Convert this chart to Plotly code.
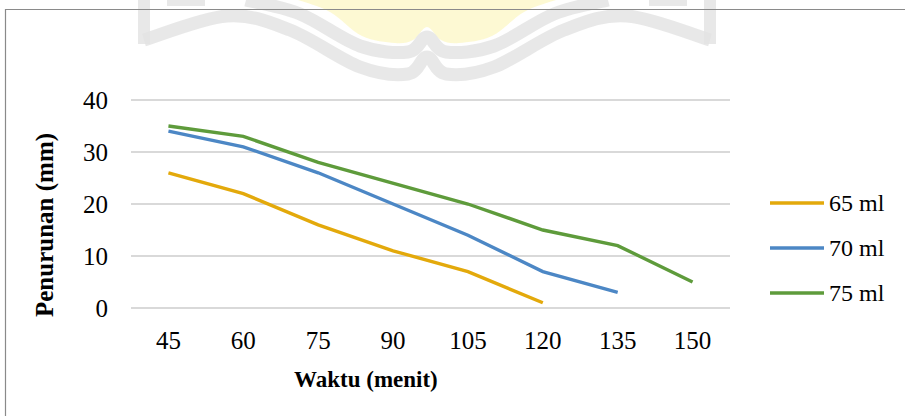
import plotly.graph_objects as go

# Settlement (mm) over time (minutes) for three dosage volumes
waktu = ["45", "60", "75", "90", "105", "120", "135", "150"]
seri = ["65 ml", "70 ml", "75 ml"]
nilai_65 = [26, 22, 16, 11, 7, 1]
nilai_70 = [34, 31, 26, 20, 14, 7, 3]
nilai_75 = [35, 33, 28, 24, 20, 15, 12, 5]
warna = ["#E3A90B", "#4C87C5", "#5E9B3B"]

W, H = 905, 416
FONT = "Liberation Serif"
Y_TOP = 40.2  # small headroom so the 40 gridline is drawn


def px(x):
    return x / W


def py(y):
    return 1 - y / H


def smooth(points, closed=False):
    """Catmull-Rom spline through pixel points, as an SVG path in paper units."""
    pts = [(px(a), py(b)) for a, b in points]
    d = f"M {pts[0][0]:.5f},{pts[0][1]:.5f}"
    n = len(pts)
    for i in range(n - 1):
        p0 = pts[i - 1] if i > 0 else pts[i]
        p1, p2 = pts[i], pts[i + 1]
        p3 = pts[i + 2] if i + 2 < n else pts[i + 1]
        c1 = (p1[0] + (p2[0] - p0[0]) / 6, p1[1] + (p2[1] - p0[1]) / 6)
        c2 = (p2[0] - (p3[0] - p1[0]) / 6, p2[1] - (p3[1] - p1[1]) / 6)
        d += (f" C {c1[0]:.5f},{c1[1]:.5f} {c2[0]:.5f},{c2[1]:.5f}"
              f" {p2[0]:.5f},{p2[1]:.5f}")
    return d + (" Z" if closed else "")


fig = go.Figure()
for nama, ys, c in zip(seri, [nilai_65, nilai_70, nilai_75], warna):
    fig.add_trace(go.Scatter(
        x=waktu[:len(ys)], y=ys, name=nama, mode="lines",
        line=dict(color=c, width=3.4), showlegend=False,
        hoverinfo="x+y+name",
    ))

shapes = []
annotations = []

# faint logo behind the top of the page
WM = "rgba(226,226,226,0.8)"
yellow = [(298, 0), (330, 12), (362, 36), (395, 43), (413, 40), (427, 27),
          (441, 40), (459, 43), (492, 36), (524, 12), (556, 0)]
shapes.append(dict(type="path", xref="paper", yref="paper", layer="below",
                   path=smooth(yellow, closed=True), fillcolor="rgba(253,247,200,0.8)",
                   line=dict(width=0)))
inner = [(246, 0), (300, 14), (360, 46), (408, 52), (427, 37), (446, 52),
         (494, 46), (554, 14), (608, 0)]
outer = [(144, 40), (227, 16), (290, 30), (360, 67), (408, 74), (427, 57),
         (446, 74), (494, 67), (564, 30), (627, 16), (710, 40)]
for pts in (inner, outer):
    shapes.append(dict(type="path", xref="paper", yref="paper", layer="below",
                       path=smooth(pts), line=dict(color=WM, width=13)))
for xv in (144, 710):
    shapes.append(dict(type="line", xref="paper", yref="paper", layer="below",
                       x0=px(xv), x1=px(xv), y0=py(0), y1=py(44),
                       line=dict(color=WM, width=12)))
for xa, xb in ((167, 205), (649, 687)):
    shapes.append(dict(type="rect", xref="paper", yref="paper", layer="below",
                       x0=px(xa), x1=px(xb), y0=py(0), y1=py(6),
                       fillcolor=WM, line=dict(width=0)))

# chart area border (left and top edges)
shapes.append(dict(type="line", xref="paper", yref="paper", x0=px(5), x1=px(905),
                   y0=py(9.5), y1=py(9.5), line=dict(color="#8a8a8a", width=1.2)))
shapes.append(dict(type="line", xref="paper", yref="paper", x0=px(5.5), x1=px(5.5),
                   y0=py(9), y1=py(416), line=dict(color="#8a8a8a", width=1.2)))

# legend
for i, (nama, c) in enumerate(zip(seri, warna)):
    yc = 203 + 45 * i
    shapes.append(dict(type="line", xref="paper", yref="paper",
                       x0=px(770), x1=px(824), y0=py(yc), y1=py(yc),
                       line=dict(color=c, width=3.4)))
    annotations.append(dict(text=nama, xref="paper", yref="paper", x=px(827), y=py(yc),
                            xanchor="left", yanchor="middle", showarrow=False,
                            font=dict(family=FONT, size=24, color="#000")))

# axis titles
annotations.append(dict(text="<b>Waktu (menit)</b>", xref="paper", yref="paper",
                        x=px(366), y=py(379), xanchor="center", yanchor="middle",
                        showarrow=False, font=dict(family=FONT, size=23, color="#000")))
annotations.append(dict(text="<b>Penurunan (mm)</b>", xref="paper", yref="paper",
                        x=px(45), y=py(225), xanchor="center", yanchor="middle",
                        textangle=-90, showarrow=False,
                        font=dict(family=FONT, size=25, color="#000")))

fig.update_layout(
    width=W, height=H,
    margin=dict(l=0, r=0, t=0, b=0, autoexpand=False),
    paper_bgcolor="white", plot_bgcolor="rgba(0,0,0,0)",
    shapes=shapes, annotations=annotations,
    xaxis=dict(
        type="category", categoryorder="array", categoryarray=waktu,
        range=[-0.5, len(waktu) - 0.5],
        domain=[px(131), px(730)],
        showgrid=False, showline=False, zeroline=False, ticks="",
        ticklabelstandoff=15, automargin=False,
        tickfont=dict(family=FONT, size=25, color="#000"),
    ),
    yaxis=dict(
        range=[0, Y_TOP], tickvals=[0, 10, 20, 30, 40],
        domain=[py(308), py(308 - Y_TOP * 5.2)],
        showgrid=True, gridcolor="#d9d9d9", gridwidth=1.5,
        zeroline=True, zerolinecolor="#d9d9d9", zerolinewidth=1.5,
        showline=False, ticks="", automargin=False,
        ticklabelstandoff=22,
        tickfont=dict(family=FONT, size=25, color="#000"),
    ),
)

fig.write_html("out.html")
